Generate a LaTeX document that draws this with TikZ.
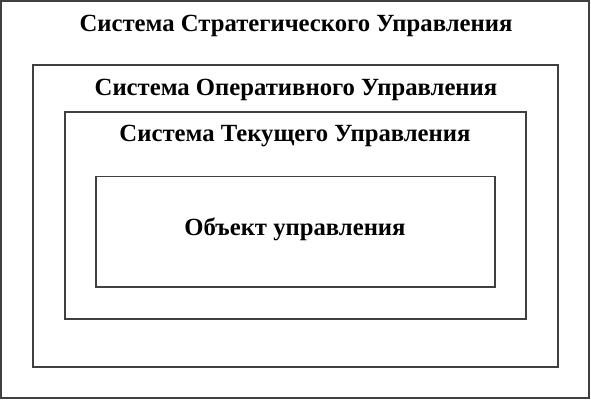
\documentclass[tikz,border=0pt]{standalone}
\usepackage{fontspec}
\setmainfont{Liberation Serif}
\begin{document}
\begin{tikzpicture}[x=1pt, y=-1pt, line width=1.3pt]
    \useasboundingbox (0,0) rectangle (591,400);

    % Рамки
    \draw[black!75, line width=1.6pt] (1,1) rectangle (589,398);
    \draw[black!75] (33,65) rectangle (558,367);
    \draw[black!75] (65,112) rectangle (526,319);
    \draw[black!75] (96,176.5) rectangle (495,287);

    % Надписи
    \node[anchor=base, font=\bfseries\fontsize{24.7}{29}\selectfont] (strat) at (296,31) {Система Стратегического Управления};
    \node[anchor=base, font=\bfseries\fontsize{24.7}{29}\selectfont] (oper) at (296,95) {Система Оперативного Управления};
    \node[anchor=base, font=\bfseries\fontsize{24.7}{29}\selectfont] (tek) at (295,141.5) {Система Текущего Управления};
    \node[anchor=base, font=\bfseries\fontsize{24.7}{29}\selectfont] (obj) at (295,235) {Объект управления};
\end{tikzpicture}
\end{document}
